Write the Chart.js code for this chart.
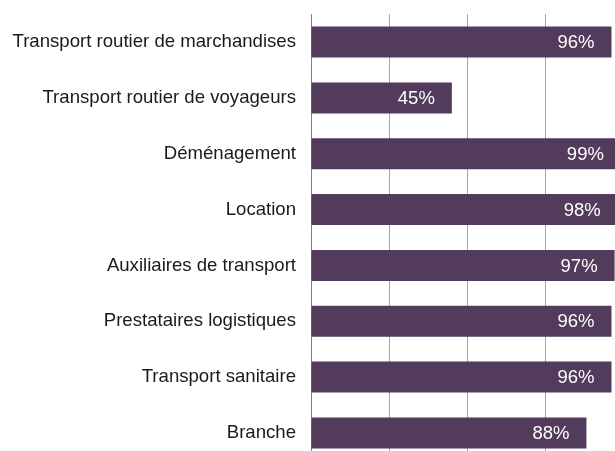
<!DOCTYPE html>
<html lang="fr">
<head>
    <meta charset="UTF-8">
    <title>Taux par activité</title>
    <script src="https://cdn.jsdelivr.net/npm/chart.js"></script>
    <style>
        html, body { margin: 0; padding: 0; overflow: hidden; background: #fff; }
        #wrap { width: 640px; height: 499px; margin-top: -12px; }
    </style>
</head>
<body>
    <div id="wrap"><canvas id="myChart" width="640" height="499"></canvas></div>

    <script>
        const categories = [
            'Transport routier de marchandises',
            'Transport routier de voyageurs',
            'Déménagement',
            'Location',
            'Auxiliaires de transport',
            'Prestataires logistiques',
            'Transport sanitaire',
            'Branche'
        ];
        const values = [96, 45, 99, 98, 97, 96, 96, 88];
        const xTicks = [0, 25, 50, 75, 100];

        const barLabels = {
            id: 'barLabels',
            afterDatasetsDraw(chart) {
                const ctx = chart.ctx;
                const meta = chart.getDatasetMeta(0);
                ctx.save();
                ctx.fillStyle = '#ffffff';
                ctx.font = '18.5px "Liberation Sans", Arial, sans-serif';
                ctx.textAlign = 'right';
                ctx.textBaseline = 'middle';
                meta.data.forEach((bar, i) => {
                    ctx.fillText(values[i] + '%', bar.x - 17, bar.y + 1);
                });
                ctx.restore();
            }
        };

        const ctx = document.getElementById('myChart').getContext('2d');
        new Chart(ctx, {
            type: 'bar',
            data: {
                labels: categories,
                datasets: [{
                    data: values,
                    backgroundColor: '#533b5b',
                    borderWidth: 0,
                    categoryPercentage: 0.555,
                    barPercentage: 1
                }]
            },
            options: {
                indexAxis: 'y',
                responsive: false,
                animation: false,
                layout: { padding: { top: 4, right: 16, bottom: 12, left: 0 } },
                plugins: { legend: { display: false }, tooltip: { enabled: false } },
                scales: {
                    x: {
                        min: 0,
                        max: 100,
                        afterBuildTicks: (axis) => { axis.ticks = xTicks.map(v => ({ value: v })); },
                        ticks: { display: false },
                        grid: { color: '#a6a6a6', drawTicks: false, lineWidth: 1 },
                        border: { display: false }
                    },
                    y: {
                        afterFit: (axis) => { axis.width = 311; },
                        ticks: {
                            color: '#1a1a1a',
                            padding: 15,
                            font: { family: '"Liberation Sans", Arial, sans-serif', size: 18.6 }
                        },
                        grid: { display: false, drawTicks: false },
                        border: { color: '#808080', width: 1 }
                    }
                }
            },
            plugins: [barLabels]
        });
    </script>
</body>
</html>
